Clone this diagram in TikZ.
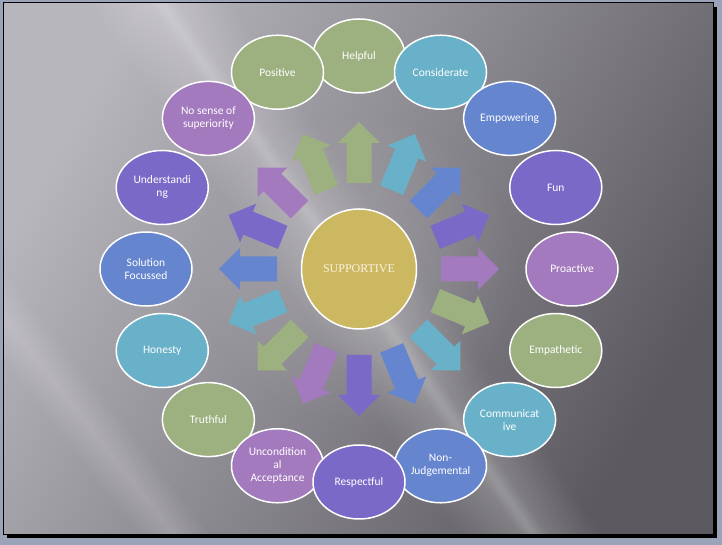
\documentclass[tikz,border=0pt]{standalone}
\usepackage{fontspec}
\setmainfont{Carlito}
\newfontfamily\serifc{Liberation Serif}
\usetikzlibrary{shapes.geometric,fadings}
\definecolor{c0}{HTML}{9CB080}
\definecolor{c1}{HTML}{68B1C9}
\definecolor{c2}{HTML}{6685CF}
\definecolor{c3}{HTML}{7B69C8}
\definecolor{c4}{HTML}{A37ABD}
\definecolor{cyel}{HTML}{CDB862}
\definecolor{ctxt}{HTML}{F8F1DC}
\definecolor{frameblue}{HTML}{9AA3B8}
\definecolor{bgL}{HTML}{B8B6BD}
\definecolor{bgM}{HTML}{7A787E}
\definecolor{bgR}{HTML}{5C5A60}
\tikzfading[name=glowfade, inner color=transparent!0, outer color=transparent!100]
\tikzfading[name=bandfade, top color=transparent!100, bottom color=transparent!100, middle color=transparent!0]
\begin{document}
\begin{tikzpicture}[x=1pt,y=1pt,
  bub/.style={ellipse, draw=white, line width=1.5pt, minimum width=92pt, minimum height=74pt,
    inner sep=0pt, text=white, align=center, font=\fontsize{11.5}{13}\selectfont},
  corebox/.style={ellipse, draw=white, line width=1.5pt, fill=cyel, minimum width=115pt,
    minimum height=120pt, inner sep=0pt, text=ctxt, font=\serifc\fontsize{12}{14}\selectfont}]
\useasboundingbox (0,0) rectangle (722,545);
\fill[frameblue] (0,0) rectangle (722,545);
\fill[black] (7,7) rectangle (717,538);
\begin{scope}
  \clip (3,10) rectangle (713,542);
  \shade[top color=bgL, middle color=bgM, bottom color=bgR, shading angle=60] (3,10) rectangle (713,542);
  \begin{scope}[transform canvas={rotate around={-55:(240,425)}}]
    \fill[white, opacity=0.22, path fading=bandfade] (-460,365) rectangle (940,485);
  \end{scope}
  \begin{scope}[transform canvas={rotate around={-52:(100,105)}}]
    \fill[white, opacity=0.16, path fading=bandfade] (-600,75) rectangle (800,135);
  \end{scope}
  \begin{scope}[transform canvas={rotate around={-55:(300,345)}}]
    \fill[white, opacity=0.12, path fading=bandfade] (-400,333) rectangle (1000,357);
  \end{scope}
  \fill[white, opacity=0.16, path fading=glowfade] (359,276) circle (160);
\end{scope}
\draw[black, line width=1pt] (3,10) rectangle (713,542);
\begin{scope}[shift={(359,276)}]
  \foreach \k in {0,...,15}{
    \pgfmathsetmacro\aa{90-22.5*\k}
    \pgfmathtruncatemacro\m{mod(\k,5)}
    \pgfmathsetmacro\rs{82+4*sin(\aa)^2}
    \pgfmathsetmacro\hb{\rs+37+3*sin(\aa)^2}
    \pgfmathsetmacro\tp{\hb+21}
    \fill[c\m, rotate=\aa] (\rs,-12.5) -- (\hb,-12.5) -- (\hb,-21) -- (\tp,0)
      -- (\hb,21) -- (\hb,12.5) -- (\rs,12.5) -- cycle;
  }
  \node[corebox] (core) at (0,0) {SUPPORTIVE};
  \foreach \k/\lab in {0/Helpful, 1/Considerate, 2/Empowering, 3/Fun, 4/Proactive,
      5/Empathetic, 6/{Communicat\\ive}, 7/{Non-\\Judgemental}, 15/Positive,
      14/{No sense of\\superiority}, 13/{Understandi\\ng}, 12/{Solution\\Focussed},
      11/Honesty, 10/Truthful, 9/{Uncondition\\al\\Acceptance}, 8/Respectful}{
    \pgfmathsetmacro\aa{90-22.5*\k}
    \pgfmathtruncatemacro\m{mod(\k,5)}
    \node[bub, fill=c\m] (e\k) at (\aa:213) {\lab};
  }
\end{scope}
\end{tikzpicture}
\end{document}
